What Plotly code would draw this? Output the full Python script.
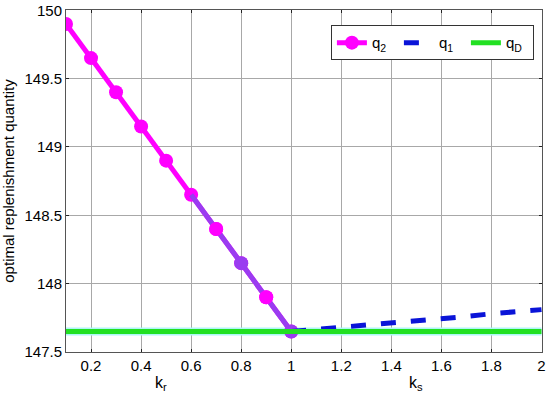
import plotly.graph_objects as go

# data
kr = [0.1, 0.2, 0.3, 0.4, 0.5, 0.6, 0.7, 0.8, 0.9, 1.0]
q2 = [149.90, 149.65, 149.40, 149.15, 148.90, 148.65, 148.40, 148.15, 147.90, 147.65]
ks = [1.0, 1.1, 1.2, 1.3, 1.4, 1.5, 1.6, 1.7, 1.8, 1.9, 2.0]
q1 = [147.65, 147.665, 147.68, 147.70, 147.715, 147.73, 147.745, 147.76, 147.78, 147.795, 147.81]
kd = [0.1, 2.0]
qD = [147.65, 147.65]
x_ticks = [0.2, 0.4, 0.6, 0.8, 1, 1.2, 1.4, 1.6, 1.8, 2]
y_ticks = [147.5, 148, 148.5, 149, 149.5, 150]

MAG = "#ff00ff"
PUR = "#9a3cf0"
BLUE = "#0a14d8"
GREEN = "#22e022"
FONT = "Liberation Sans, Arial, sans-serif"

fig = go.Figure()
fig.add_trace(go.Scatter(x=kd, y=qD, mode="lines", showlegend=False,
                         line=dict(color="#aef6f6", width=8), hoverinfo="skip"))
fig.add_trace(go.Scatter(x=kr, y=q2, mode="lines+markers", name="q<sub>2</sub>",
                         line=dict(color=MAG, width=5), marker=dict(color=MAG, size=14)))
fig.add_trace(go.Scatter(x=kr[5:], y=q2[5:], mode="lines", showlegend=False,
                         line=dict(color=PUR, width=5)))
fig.add_trace(go.Scatter(x=kr[6:], y=q2[6:], mode="markers", showlegend=False,
                         marker=dict(color=[MAG, PUR, MAG, PUR], size=14)))
fig.add_trace(go.Scatter(x=ks, y=q1, mode="lines", name="q<sub>1</sub>",
                         line=dict(color=BLUE, width=5, dash="dash")))
fig.add_trace(go.Scatter(x=kd, y=qD, mode="lines", name="q<sub>D</sub>",
                         line=dict(color=GREEN, width=5)))

axis_common = dict(showgrid=True, gridcolor="#a8a8a8", gridwidth=1,
                   showline=True, linecolor="#555555", linewidth=1, mirror="ticks",
                   ticks="inside", ticklen=3, tickcolor="#222222", automargin=False,
                   zeroline=False, tickfont=dict(family=FONT, size=15, color="#000"))

fig.update_xaxes(range=[0.1, 2.002], tickvals=x_ticks, ticktext=[f"{v:g}" for v in x_ticks],
                 ticklabeloverflow="allow", **axis_common)
fig.update_yaxes(range=[147.5, 150.002], tickvals=y_ticks, ticktext=[f"{v:g}" for v in y_ticks],
                 ticklabeloverflow="allow",
                 title=dict(text="optimal replenishment quantity",
                            font=dict(family=FONT, size=15, color="#000"), standoff=6),
                 **axis_common)

fig.add_annotation(x=0.48, y=0, xref="x", yref="paper", yanchor="top", yshift=-20,
                   text="k<sub>r</sub>", showarrow=False,
                   font=dict(family=FONT, size=16, color="#000"))
fig.add_annotation(x=1.5, y=0, xref="x", yref="paper", yanchor="top", yshift=-20,
                   text="k<sub>s</sub>", showarrow=False,
                   font=dict(family=FONT, size=16, color="#000"))

fig.update_layout(
    width=550, height=398,
    margin=dict(l=66, r=8, t=10, b=46),
    plot_bgcolor="white", paper_bgcolor="white",
    legend=dict(orientation="h", x=0.983, y=0.955, xanchor="right", yanchor="top",
                bordercolor="#333333", borderwidth=1, bgcolor="white",
                font=dict(family=FONT, size=15, color="#000"),
                entrywidth=22, entrywidthmode="pixels"),
    showlegend=True,
)

# remove the default 8px body margin so the figure fills the window exactly
fig.write_html("out.html", config={"displayModeBar": False},
               post_script="document.body.style.margin='0px';")
